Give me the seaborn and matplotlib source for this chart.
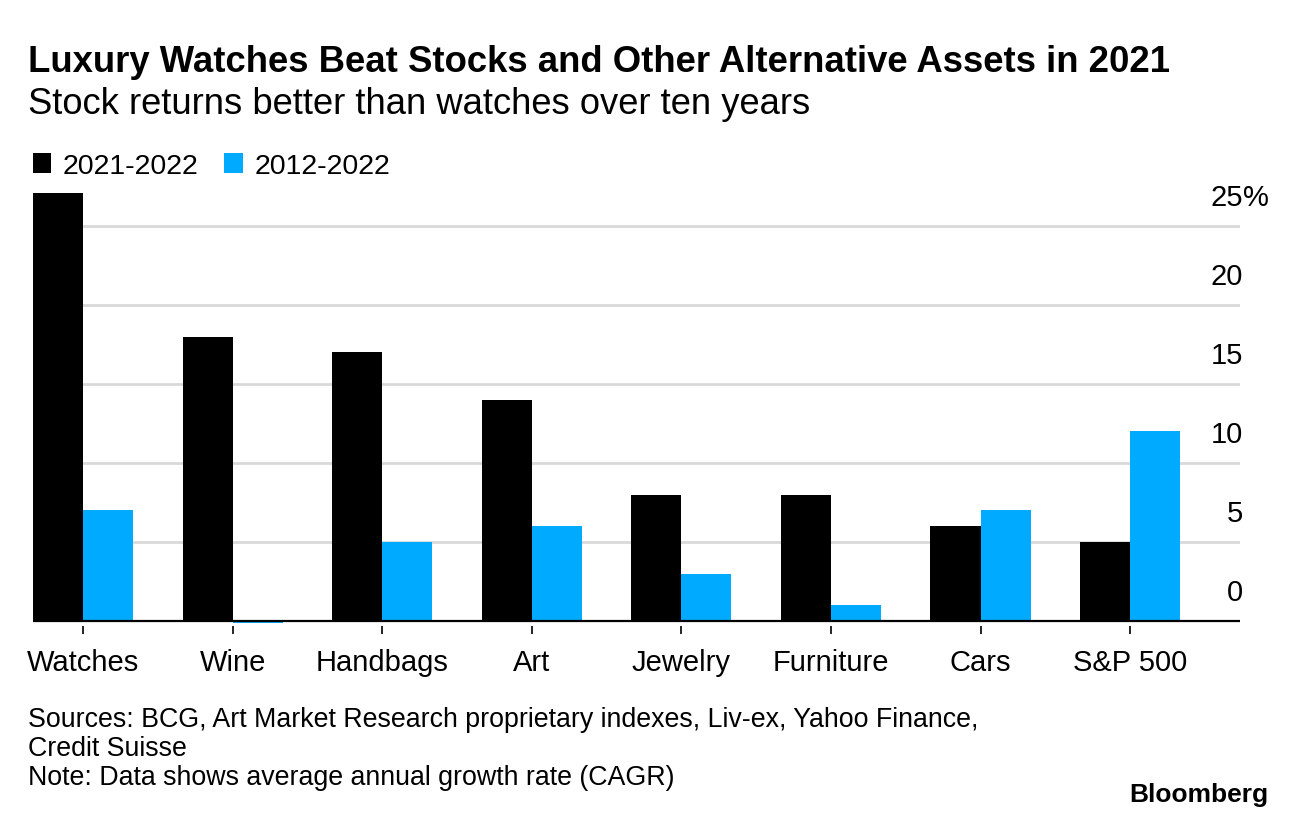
import seaborn as sns
import matplotlib.pyplot as plt
import matplotlib.transforms as mtransforms
import pandas as pd

categories = ["Watches", "Wine", "Handbags", "Art", "Jewelry", "Furniture", "Cars", "S&P 500"]
one_year = [27.1, 18.0, 17.0, 14.0, 8.0, 8.0, 6.0, 5.0]
ten_year = [7.0, -0.15, 5.0, 6.0, 3.0, 1.0, 7.0, 12.0]
series_names = ["2021-2022", "2012-2022"]
y_ticks = [0, 5, 10, 15, 20, 25]

colors = {"2021-2022": "#000000", "2012-2022": "#00aaff"}

df = pd.DataFrame({
    "category": categories * 2,
    "value": one_year + ten_year,
    "period": [series_names[0]] * len(categories) + [series_names[1]] * len(categories),
})

sns.set_style("white")
plt.rcParams["font.family"] = ["Liberation Sans", "DejaVu Sans"]
plt.rcParams["text.color"] = "black"
plt.rcParams["xtick.color"] = "black"
plt.rcParams["xtick.labelcolor"] = "black"

fig = plt.figure(figsize=(12.96, 8.2), dpi=100)
ax = fig.add_axes([33 / 1296, 1 - 626.7 / 820, 1207 / 1296, 432.7 / 820])

sns.barplot(data=df, x="category", y="value", hue="period", palette=colors,
            width=0.67, saturation=1, ax=ax, zorder=3, linewidth=0)

ax.set_xlim(-0.335, 7.735)
ax.set_ylim(-0.3, 27.1)
ax.set_xlabel("")
ax.set_ylabel("")
for s in ax.spines.values():
    s.set_visible(False)

# gridlines + zero line
for t in y_ticks:
    if t == 0:
        ax.axhline(0, color="black", lw=1.6, zorder=4)
    else:
        ax.axhline(t, color="#d9d9d9", lw=2, zorder=1)

ax.set_yticks([])
ax.tick_params(axis="x", length=6, width=1.2, color="black", pad=10, labelsize=21,
               labelcolor="black", direction="out")
ax.xaxis.set_ticks_position("bottom")

# y labels sit above the gridlines on the right
trans = mtransforms.offset_copy(ax.get_yaxis_transform(), fig=fig, x=0, y=15, units="dots")
for t in y_ticks:
    ax.text(1.0025, t, str(t), transform=trans, ha="right", va="bottom", fontsize=21)
    if t == 25:
        ax.text(1.0025, t, "%", transform=trans, ha="left", va="bottom", fontsize=21)

sns.move_legend(ax, loc="center left", bbox_to_anchor=(7 / 1296, 1 - 167 / 820),
                bbox_transform=fig.transFigure, ncol=2, frameon=False, title=None,
                fontsize=20.5, handlelength=0.66, handleheight=0.66, handletextpad=0.4,
                columnspacing=0.9)
for txt in ax.get_legend().get_texts():
    txt.set_color("black")

fig.text(28 / 1296, 1 - 62 / 820, "Luxury Watches Beat Stocks and Other Alternative Assets in 2021",
         fontsize=26.3, fontweight="bold", va="center", ha="left")
fig.text(28 / 1296, 1 - 104 / 820, "Stock returns better than watches over ten years",
         fontsize=26.2, va="center", ha="left")

notes = [
    "Sources: BCG, Art Market Research proprietary indexes, Liv-ex, Yahoo Finance,",
    "Credit Suisse",
    "Note: Data shows average annual growth rate (CAGR)",
]
for i, line in enumerate(notes):
    fig.text(28 / 1296, 1 - (720 + i * 29) / 820, line, fontsize=19.3, va="center", ha="left")

fig.text(1268 / 1296, 1 - 795 / 820, "Bloomberg", fontsize=19, fontweight="bold",
         va="center", ha="right")

fig.savefig("out.png", dpi=100)
